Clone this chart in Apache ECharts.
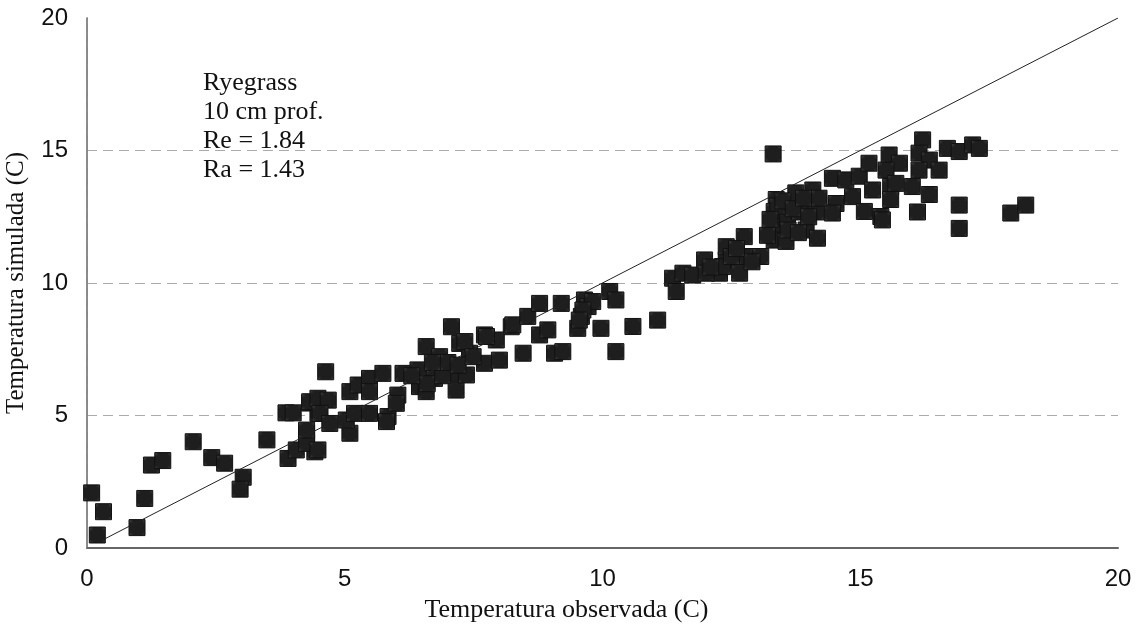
<!DOCTYPE html>
<html>
<head>
<meta charset="utf-8">
<script src="https://cdn.jsdelivr.net/npm/echarts@6/dist/echarts.min.js"></script>
<style>
  html, body { margin: 0; padding: 0; background: #fff; }
  #chart { width: 1145px; height: 628px; }
</style>
</head>
<body>
<div id="chart"></div>
<script>
// Observed soil temperature (C) at 10 cm depth under ryegrass
const observed = [
  0.09, 0.32, 0.2, 0.97, 1.12, 1.25, 1.47, 2.06, 2.42, 2.67, 3.03, 2.97, 3.49, 3.86, 4.0, 3.9, 4.06, 4.26, 4.42, 4.32, 4.48,
  4.63, 4.26, 4.48, 4.26, 4.32, 4.48, 4.68, 4.52, 4.71, 5.1, 5.03, 5.19, 5.1, 5.26, 5.48, 5.48, 5.48, 5.74, 5.84, 5.81,
  6.03, 6.0, 6.13, 6.42, 6.45, 6.58, 6.58, 6.74, 6.84, 6.97, 7.07, 7.16, 7.13, 7.23, 7.42, 7.36, 7.71, 7.71, 7.94, 8.0,
  8.23, 8.46, 6.6, 6.9, 7.0, 6.7, 7.2, 6.3,
  7.33, 7.75, 7.49, 8.26, 8.55, 8.78, 8.78, 8.94, 9.07, 9.23, 9.2, 9.52, 9.59, 9.65, 9.72, 9.81, 9.97, 10.14, 10.26, 10.26,
  10.59, 11.07, 11.36, 11.43, 11.56, 11.75, 9.62, 9.55,
  11.98, 12.4, 12.27, 13.01,
  13.31, 12.01, 12.33, 12.4, 12.66, 12.75, 12.78, 13.07, 13.37, 13.33, 13.3, 13.33, 13.56, 13.59, 13.75, 13.82, 13.95,
  14.08, 14.17, 14.14, 14.46, 14.53, 14.46, 14.72, 14.85, 14.98, 15.08, 15.17, 15.24, 15.4, 15.56, 15.59, 15.59,
  13.2, 13.4, 13.6, 13.5, 13.8, 13.7, 14.0, 14.2, 13.9, 13.25, 12.1, 12.5, 12.9, 12.6,
  16.21, 16.69, 16.92, 17.18, 17.31, 16.14, 15.76, 16.34, 16.53, 15.5, 15.69, 16.14, 16.01, 15.43, 16.34, 16.11,
  16.92, 16.92, 17.92, 18.21
];

// Simulated soil temperature (C), paired with the observed values above
const simulated = [
  2.08, 1.37, 0.49, 0.77, 1.87, 3.13, 3.3, 4.01, 3.41, 3.2, 2.67, 2.22, 4.08, 5.1, 5.1, 3.38, 3.7, 4.33, 3.63, 5.47, 5.08,
  6.65, 3.95, 3.7, 4.45, 5.52, 5.65, 5.58, 5.08, 4.7, 4.33, 4.83, 5.08, 5.9, 6.15, 6.4, 5.9, 5.08, 6.59, 4.96, 4.77,
  5.77, 5.46, 6.59, 6.72, 6.09, 7.6, 5.9, 6.4, 7.22, 6.72, 8.35, 5.96, 6.59, 7.72, 7.35, 6.53, 8.04, 6.97, 7.85, 7.09,
  8.35, 7.35, 6.2, 6.5, 7.0, 7.0, 6.9, 6.5,
  7.79, 7.98, 7.22, 8.42, 8.74, 9.23, 8.04, 8.23, 7.35, 7.41, 9.23, 8.29, 8.74, 9.36, 9.11, 9.3, 8.29, 9.68, 9.36, 7.41,
  8.36, 8.6, 10.18, 9.68, 10.37, 10.3, 8.98, 8.6,
  10.87, 10.87, 10.37, 11.0,
  14.87, 10.37, 10.62, 11.37, 10.37, 11.75, 11.0, 11.0, 13.15, 12.7, 12.13, 11.62, 11.57, 12.38, 13.4, 12.68, 12.0,
  13.51, 11.69, 12.68, 13.95, 13.0, 12.64, 13.89, 13.26, 14.03, 12.7, 14.52, 13.51, 12.51, 14.83, 13.64, 13.15,
  11.8, 12.9, 12.0, 13.1, 11.9, 12.8, 12.5, 13.2, 13.2, 12.4, 10.6, 11.0, 10.8, 11.3,
  15.4, 15.08, 14.96, 15.21, 15.08, 14.9, 14.52, 14.64, 14.26, 14.26, 13.76, 14.26, 13.64, 12.38, 13.34, 12.68,
  12.94, 12.06, 12.64, 12.94
];

// 1:1 reference line
const lineX = [0.3, 20];
const lineY = [0.3, 20];

const axisTicks = [0, 5, 10, 15, 20];

const statsLines = ['Ryegrass', '10 cm prof.', 'Re = 1.84', 'Ra = 1.43'];

// Dotted fill used inside each square marker
const dots = document.createElement('canvas');
dots.width = 3; dots.height = 3;
const dctx = dots.getContext('2d');
dctx.fillStyle = '#1e1e1e';
dctx.fillRect(0, 0, 3, 3);
dctx.fillStyle = '#c8c8c8';
dctx.fillRect(1, 1, 1, 1);

const points = observed.map((x, i) => [x, simulated[i]]);

const chart = echarts.init(document.getElementById('chart'), null, { renderer: 'canvas' });

chart.setOption({
  animation: false,
  backgroundColor: '#ffffff',
  grid: { left: 87, right: 27, top: 18, bottom: 80, outerBoundsMode: 'none', containLabel: false },
  xAxis: [
    {
      type: 'value', min: 0, max: 20, interval: 5,
      name: 'Temperatura observada (C)',
      nameLocation: 'middle', nameGap: 49,
      nameTextStyle: { fontFamily: 'Liberation Serif', fontSize: 26, color: '#111', padding: [0, 72, 0, 0] },
      axisLine: { show: true, lineStyle: { color: '#9a9a9a', width: 2 } },
      axisTick: { show: false },
      axisLabel: { fontFamily: 'Liberation Sans', fontSize: 24, color: '#111', margin: 19,
                   formatter: v => axisTicks.includes(v) ? String(v) : '' },
      splitLine: { show: false }
    },
    {
      type: 'value', min: 0, max: 20, position: 'top',
      axisLine: { show: true, lineStyle: { color: '#555', width: 1.5 } },
      axisTick: { show: false }, axisLabel: { show: false }, splitLine: { show: false }
    }
  ],
  yAxis: [
    {
      type: 'value', min: 0, max: 20, interval: 5,
      name: 'Temperatura simulada (C)',
      nameLocation: 'middle', nameGap: 58,
      nameTextStyle: { fontFamily: 'Liberation Serif', fontSize: 25, color: '#111' },
      axisLine: { show: true, lineStyle: { color: '#666', width: 1.5 } },
      axisTick: { show: false },
      axisLabel: { fontFamily: 'Liberation Sans', fontSize: 24, color: '#111', margin: 19 },
      splitLine: { show: true, showMinLine: false, showMaxLine: false,
                   lineStyle: { color: '#aaa', type: [10, 6], width: 1 } }
    },
    {
      type: 'value', min: 0, max: 20, position: 'right',
      axisLine: { show: true, lineStyle: { color: '#888', type: [6, 5], width: 1 } },
      axisTick: { show: false }, axisLabel: { show: false }, splitLine: { show: false }
    }
  ],
  graphic: [
    {
      type: 'text', left: 203, top: 69, z: 5,
      style: {
        text: statsLines.join('\n'),
        font: '26px "Liberation Serif"',
        lineHeight: 29,
        fill: '#111'
      }
    }
  ],
  series: [
    {
      type: 'line',
      data: lineX.map((x, i) => [x, lineY[i]]),
      symbol: 'none',
      lineStyle: { color: '#222', width: 1 },
      z: 3
    },
    {
      type: 'scatter',
      data: points,
      symbol: 'rect',
      symbolSize: 16,
      itemStyle: {
        color: { image: dots, repeat: 'repeat' },
        borderColor: '#111',
        borderWidth: 1,
        opacity: 1
      },
      z: 2
    }
  ]
});
</script>
</body>
</html>
